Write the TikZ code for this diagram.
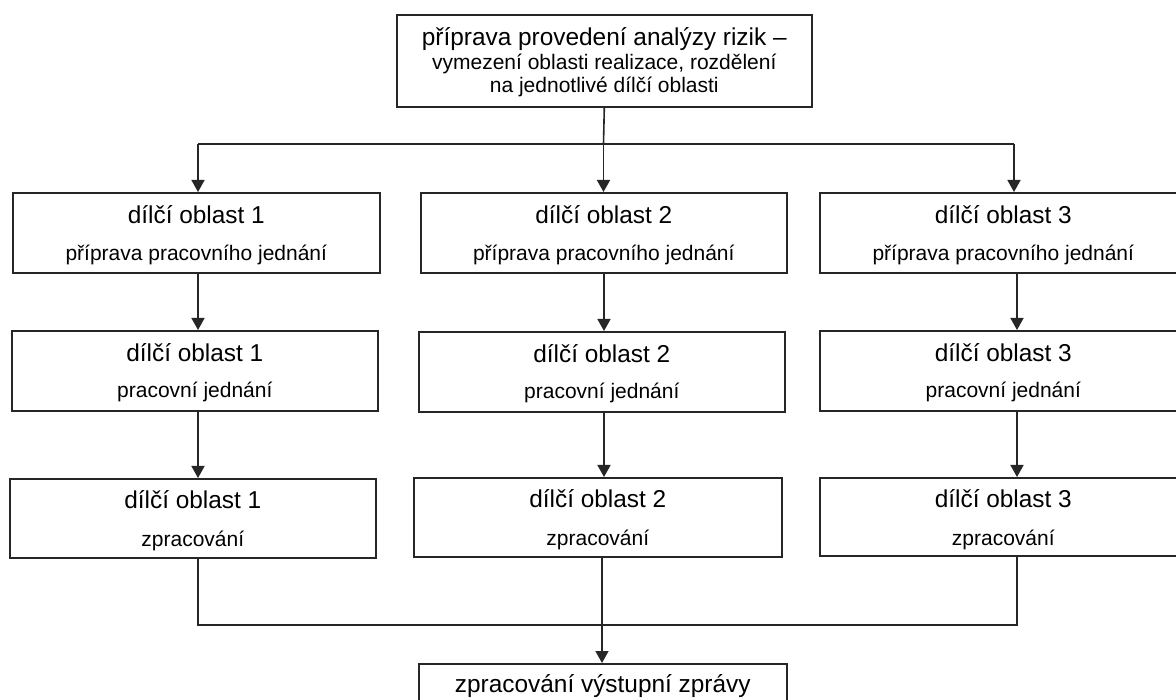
\documentclass[tikz,border=0pt]{standalone}
\usepackage{fontspec}
\setmainfont{Liberation Sans}
\usetikzlibrary{arrows.meta}
\definecolor{lncol}{gray}{0.15}
\tikzset{
  box/.style={draw=lncol, line width=1.6pt, inner sep=0pt, anchor=north west, rectangle},
  ttl/.style={font=\fontsize{24.4}{28}\selectfont, anchor=base, inner sep=0pt, text=black},
  subt/.style={font=\fontsize{21}{25}\selectfont, anchor=base, inner sep=0pt, text=black},
  arr/.style={-{Triangle[length=12pt,width=13pt]}, line width=1.6pt, draw=lncol},
  ln/.style={line width=1.6pt, draw=lncol},
}
\begin{document}
\begin{tikzpicture}[x=1pt,y=-1pt]
\useasboundingbox (0,0) rectangle (1176,700);
\clip (0,0) rectangle (1176,700);
\fill[white] (0,0) rectangle (1176,700);

% top box
\node[box, minimum width=415pt, minimum height=92pt] (top) at (396,14) {};
\node[ttl] (topa) at ([yshift=-31.5pt]top.north) {příprava provedení analýzy rizik –};
\node[subt] (topb) at ([yshift=-55.5pt]top.north) {vymezení oblasti realizace, rozdělení};
\node[subt] (topc) at ([yshift=-78.5pt]top.north) {na jednotlivé dílčí oblasti};

% row 1
\node[box, minimum width=367pt, minimum height=80pt] (b11) at (12,192) {};
\node[box, minimum width=366pt, minimum height=80pt] (b12) at (420,192) {};
\node[box, minimum width=367pt, minimum height=80pt] (b13) at (819,192) {};
\node[ttl] (b11a) at ([yshift=-31.5pt]b11.north) {dílčí oblast 1};
\node[subt] (b11b) at ([yshift=-68.5pt]b11.north) {příprava pracovního jednání};
\node[ttl] (b12a) at ([yshift=-31.5pt]b12.north) {dílčí oblast 2};
\node[subt] (b12b) at ([yshift=-68.5pt]b12.north) {příprava pracovního jednání};
\node[ttl] (b13a) at ([yshift=-31.5pt]b13.north) {dílčí oblast 3};
\node[subt] (b13b) at ([yshift=-68.5pt]b13.north) {příprava pracovního jednání};

% row 2
\node[box, minimum width=366pt, minimum height=80pt] (b21) at (11,330) {};
\node[box, minimum width=366pt, minimum height=80pt] (b22) at (418,331) {};
\node[box, minimum width=367pt, minimum height=80pt] (b23) at (819,330) {};
\node[ttl] (b21a) at ([yshift=-31.5pt]b21.north) {dílčí oblast 1};
\node[subt] (b21b) at ([yshift=-67.5pt]b21.north) {pracovní jednání};
\node[ttl] (b22a) at ([yshift=-31.5pt]b22.north) {dílčí oblast 2};
\node[subt] (b22b) at ([yshift=-67.5pt]b22.north) {pracovní jednání};
\node[ttl] (b23a) at ([yshift=-31.5pt]b23.north) {dílčí oblast 3};
\node[subt] (b23b) at ([yshift=-67.5pt]b23.north) {pracovní jednání};

% row 3
\node[box, minimum width=366pt, minimum height=79pt] (b31) at (9,478) {};
\node[box, minimum width=368pt, minimum height=79pt] (b32) at (413,477) {};
\node[box, minimum width=367pt, minimum height=78pt] (b33) at (819,477) {};
\node[ttl] (b31a) at ([yshift=-30.5pt]b31.north) {dílčí oblast 1};
\node[subt] (b31b) at ([yshift=-68pt]b31.north) {zpracování};
\node[ttl] (b32a) at ([yshift=-30.5pt]b32.north) {dílčí oblast 2};
\node[subt] (b32b) at ([yshift=-68pt]b32.north) {zpracování};
\node[ttl] (b33a) at ([yshift=-30.5pt]b33.north) {dílčí oblast 3};
\node[subt] (b33b) at ([yshift=-68pt]b33.north) {zpracování};

% final box
\node[box, minimum width=368pt, minimum height=80pt] (fin) at (418,663) {};
\node[ttl] (fina) at ([yshift=-29pt]fin.north) {zpracování výstupní zprávy};

% connectors top
\coordinate (s1) at (198,144);
\coordinate (s2) at (603.5,144);
\coordinate (s3) at (1014,144);
\draw[ln] (top.south) -- (s2);
\draw[ln] (s1) -- (s3);
\draw[arr] (s1) -- (s1 |- b11.north);
\draw[arr] (s2) -- (s2 |- b12.north);
\draw[arr] (s3) -- (s3 |- b13.north);

% column x positions
\coordinate (x1) at (198,0);
\coordinate (x2) at (604,0);
\coordinate (x3) at (1017,0);
\draw[arr] (b11.south -| x1) -- (b21.north -| x1);
\draw[arr] (b12.south -| x2) -- (b22.north -| x2);
\draw[arr] (b13.south -| x3) -- (b23.north -| x3);
\draw[arr] (b21.south -| x1) -- (b31.north -| x1);
\draw[arr] (b22.south -| x2) -- (b32.north -| x2);
\draw[arr] (b23.south -| x3) -- (b33.north -| x3);

% bottom join
\coordinate (m1) at (198,625);
\coordinate (m2) at (602,625);
\coordinate (m3) at (1017,625);
\draw[ln] (b31.south -| m1) -- (m1) -- (m3) -- (b33.south -| m3);
\draw[ln] (b32.south -| m2) -- (m2);
\draw[arr] (m2) -- (fin.north -| m2);
\end{tikzpicture}
\end{document}
